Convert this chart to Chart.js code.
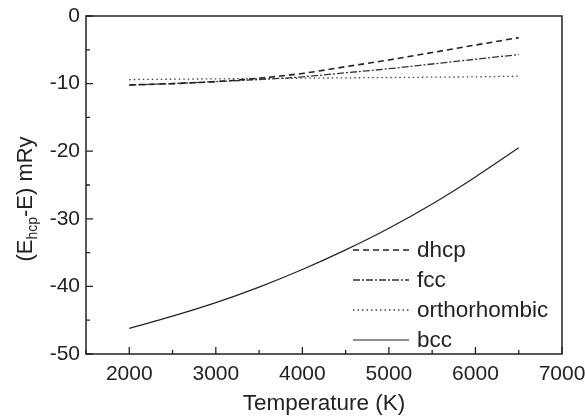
<!DOCTYPE html>
<html>
<head>
<meta charset="utf-8">
<script src="https://cdn.jsdelivr.net/npm/chart.js@4/dist/chart.umd.min.js"></script>
<style>
html,body{margin:0;padding:0;background:#fff;}
#wrap{width:585px;height:417px;}
</style>
</head>
<body>
<div id="wrap"><canvas id="c" width="585" height="417"></canvas></div>
<script>
const temperatures = [2000, 2500, 3000, 3500, 4000, 4500, 5000, 5500, 6000, 6500];
const dhcp  = [-10.2, -10.0, -9.7, -9.2, -8.5, -7.5, -6.5, -5.4, -4.3, -3.2];
const fcc   = [-10.2, -10.0, -9.7, -9.4, -9.0, -8.4, -7.8, -7.1, -6.4, -5.7];
const ortho = [-9.4, -9.35, -9.3, -9.25, -9.2, -9.15, -9.1, -9.05, -9.0, -8.9];
const bcc   = [-46.2, -44.4, -42.4, -40.1, -37.5, -34.6, -31.4, -27.8, -23.8, -19.5];
const seriesNames = ['dhcp', 'fcc', 'orthorhombic', 'bcc'];
const xMajorTicks = [2000, 3000, 4000, 5000, 6000, 7000];
const xMinorTicks = [1500, 2500, 3500, 4500, 5500, 6500];
const yMajorTicks = [-50, -40, -30, -20, -10, 0];
const yMinorTicks = [-45, -35, -25, -15, -5];
const xTitle = 'Temperature (K)';
const yTitleParts = ['(E', 'hcp', '-E) mRy'];

const FONT = '"Liberation Sans", Arial, Helvetica, sans-serif';
const INK = '#222';

function pts(vals){ return temperatures.map((t,i)=>({x:t, y:vals[i]})); }

const decorPlugin = {
  id: 'decor',
  afterDatasetsDraw(chart){
    const {ctx, chartArea:{left, top, right, bottom}, scales:{x, y}} = chart;
    ctx.save();
    ctx.strokeStyle = INK;
    ctx.lineWidth = 1.5;
    ctx.strokeRect(left, top, right-left, bottom-top);
    ctx.lineWidth = 1.3;
    ctx.beginPath();
    xMajorTicks.forEach(v=>{const p=x.getPixelForValue(v); ctx.moveTo(p,bottom); ctx.lineTo(p,bottom-7);});
    xMinorTicks.forEach(v=>{const p=x.getPixelForValue(v); ctx.moveTo(p,bottom); ctx.lineTo(p,bottom-4);});
    yMajorTicks.forEach(v=>{const p=y.getPixelForValue(v); ctx.moveTo(left,p); ctx.lineTo(left+7,p);});
    yMinorTicks.forEach(v=>{const p=y.getPixelForValue(v); ctx.moveTo(left,p); ctx.lineTo(left+4,p);});
    ctx.stroke();

    const lx0 = 353, lx1 = 409, tx = 417;
    const rowY = [250, 280, 310, 340];
    ctx.font = '22.5px ' + FONT;
    ctx.textBaseline = 'middle';
    ctx.textAlign = 'left';
    chart.data.datasets.forEach((ds, i)=>{
      ctx.save();
      ctx.strokeStyle = ds.borderColor;
      ctx.lineWidth = ds.borderWidth;
      ctx.setLineDash(ds.borderDash || []);
      ctx.beginPath();
      ctx.moveTo(lx0, rowY[i]); ctx.lineTo(lx1, rowY[i]);
      ctx.stroke();
      ctx.restore();
      ctx.fillStyle = INK;
      ctx.fillText(ds.label, tx, rowY[i]+1);
    });

    ctx.font = '22.5px ' + FONT;
    ctx.textAlign = 'center';
    ctx.textBaseline = 'alphabetic';
    ctx.fillStyle = INK;
    ctx.fillText(xTitle, (left+right)/2, 410);

    const bigF = '22px ' + FONT, smallF = '14px ' + FONT;
    ctx.font = bigF; const w0 = ctx.measureText(yTitleParts[0]).width;
    ctx.font = smallF; const w1 = ctx.measureText(yTitleParts[1]).width;
    ctx.font = bigF; const w2 = ctx.measureText(yTitleParts[2]).width;
    const total = w0 + w1 + w2;
    ctx.translate(32, 199);
    ctx.rotate(-Math.PI/2);
    ctx.textAlign = 'left';
    let cx = -total/2;
    ctx.font = bigF; ctx.fillText(yTitleParts[0], cx, 0); cx += w0;
    ctx.font = smallF; ctx.fillText(yTitleParts[1], cx, 5); cx += w1;
    ctx.font = bigF; ctx.fillText(yTitleParts[2], cx, 0);
    ctx.restore();
  }
};

new Chart(document.getElementById('c'), {
  type: 'line',
  data: {
    datasets: [
      {label: seriesNames[0], data: pts(dhcp), borderColor: '#222', borderWidth: 1.6, borderDash: [6,4]},
      {label: seriesNames[1], data: pts(fcc), borderColor: '#333', borderWidth: 1.3, borderDash: [7,2,2,2]},
      {label: seriesNames[2], data: pts(ortho), borderColor: '#444', borderWidth: 1.3, borderDash: [1.5,3]},
      {label: seriesNames[3], data: pts(bcc), borderColor: '#222', borderWidth: 1.2, borderDash: []}
    ]
  },
  options: {
    responsive: false,
    animation: false,
    devicePixelRatio: 1,
    elements: { point: { radius: 0 }, line: { tension: 0, cubicInterpolationMode: 'monotone', fill: false } },
    layout: { padding: { top: 16, right: 23, left: 0, bottom: 0 } },
    plugins: { legend: { display: false }, tooltip: { enabled: false } },
    scales: {
      x: {
        type: 'linear', min: 1500, max: 7000,
        grid: { display: false, drawTicks: false },
        border: { display: false },
        afterBuildTicks: s => { s.ticks = xMajorTicks.map(v=>({value:v})); },
        afterFit: s => { s.height = 63; s.paddingLeft = 0; s.paddingRight = 0; },
        ticks: { padding: 8, color: INK, font: { family: FONT, size: 21 }, callback: v => String(v) }
      },
      y: {
        type: 'linear', min: -50, max: 0,
        grid: { display: false, drawTicks: false },
        border: { display: false },
        afterBuildTicks: s => { s.ticks = yMajorTicks.map(v=>({value:v})); },
        afterFit: s => { s.width = 86; s.paddingTop = 0; s.paddingBottom = 0; },
        ticks: { padding: 6, color: INK, font: { family: FONT, size: 21 }, callback: v => String(v) }
      }
    }
  },
  plugins: [decorPlugin]
});
</script>
</body>
</html>
